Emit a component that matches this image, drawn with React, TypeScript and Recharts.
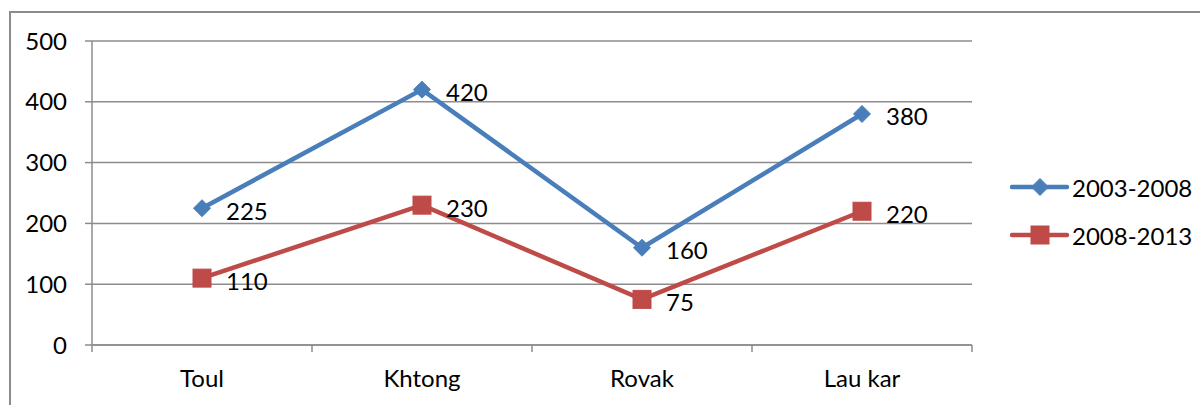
import { CartesianGrid, LabelList, Line, LineChart, XAxis, YAxis } from "recharts";

const regions = ["Toul", "Khtong", "Rovak", "Lau kar"];
const period1 = [225, 420, 160, 380];
const period2 = [110, 230, 75, 220];
const yTicks = [0, 100, 200, 300, 400, 500];

const BLUE = "#4A7EBB";
const RED = "#BE4B48";
const GRID = "#8c8c8c";
const FONT = "Lato, 'Open Sans', sans-serif";

const data = regions.map((name, i) => ({
  name,
  p1: period1[i],
  p2: period2[i],
}));

const series = [
  { key: "p1", name: "2003-2008", color: BLUE, shape: "diamond" },
  { key: "p2", name: "2008-2013", color: RED, shape: "square" },
];

function Marker({ cx, cy, shape, color }: any) {
  if (cx == null || cy == null) return null;
  if (shape === "diamond") {
    const r = 8.5;
    return (
      <polygon
        points={`${cx},${cy - r} ${cx + r},${cy} ${cx},${cy + r} ${cx - r},${cy}`}
        fill={color}
        stroke={color}
      />
    );
  }
  return <rect x={cx - 9} y={cy - 9} width={18} height={18} fill={color} stroke={color} />;
}

const PLOT_W = 880;

function XTick(props: any) {
  const { x, y, payload, index } = props;
  const half = PLOT_W / regions.length / 2;
  return (
    <g>
      <line x1={x - half} y1={y} x2={x - half} y2={y + 7} stroke={GRID} strokeWidth={1.5} />
      {index === regions.length - 1 && (
        <line x1={x + half} y1={y} x2={x + half} y2={y + 7} stroke={GRID} strokeWidth={1.5} />
      )}
      <text x={x} y={y + 42} textAnchor="middle" fontSize={24} fill="#000" fontFamily={FONT}>
        {payload.value}
      </text>
    </g>
  );
}

function PointLabel({ x, y, value }: any) {
  return (
    <text x={x + 24} y={y + 2} dominantBaseline="central" fontSize={24} fill="#000" fontFamily={FONT}>
      {value}
    </text>
  );
}

function LegendBox() {
  return (
    <svg width={190} height={80}>
      {series.map((s, i) => {
        const y = 15 + i * 48;
        return (
          <g key={s.key}>
            <line x1={2} y1={y} x2={57} y2={y} stroke={s.color} strokeWidth={4.5} strokeLinecap="round" />
            <Marker cx={30} cy={y} shape={s.shape} color={s.color} />
            <text x={62} y={y} dominantBaseline="central" fontSize={24} fill="#000" fontFamily={FONT}>
              {s.name}
            </text>
          </g>
        );
      })}
    </svg>
  );
}

export default function App() {
  return (
    <div
      style={{
        position: "fixed",
        left: 0,
        top: 0,
        width: 1200,
        height: 405,
        background: "#fff",
        overflow: "hidden",
      }}
    >
      <div
        style={{
          position: "absolute",
          left: 9,
          top: 11,
          width: 1300,
          height: 500,
          border: "2px solid #8c8c8c",
        }}
      />
      <div style={{ position: "absolute", left: 0, top: 0 }}>
        <LineChart
          width={1200}
          height={405}
          data={data}
          margin={{ top: 41, right: 228, bottom: 0, left: 0 }}
        >
          <CartesianGrid vertical={false} stroke={GRID} strokeWidth={1.5} />
          <XAxis
            dataKey="name"
            scale="band"
            height={60}
            axisLine={{ stroke: GRID, strokeWidth: 1.5 }}
            tickLine={false}
            tickSize={0}
            tickMargin={0}
            tick={<XTick />}
            interval={0}
          />
          <YAxis
            width={92}
            domain={[0, 500]}
            ticks={yTicks}
            interval={0}
            axisLine={{ stroke: GRID, strokeWidth: 1.5 }}
            tickLine={{ stroke: GRID, strokeWidth: 1.5 }}
            tickSize={7}
            tickMargin={18}
            tick={{ fontSize: 24, fill: "#000", fontFamily: FONT }}
          />
          {series.map((s) => (
            <Line
              key={s.key}
              dataKey={s.key}
              name={s.name}
              type="linear"
              stroke={s.color}
              strokeWidth={4.5}
              isAnimationActive={false}
              dot={(p: any) => <Marker key={`${s.key}-${p.index}`} cx={p.cx} cy={p.cy} shape={s.shape} color={s.color} />}
              activeDot={false}
            >
              <LabelList dataKey={s.key} content={<PointLabel />} />
            </Line>
          ))}
        </LineChart>
      </div>
      <div style={{ position: "absolute", left: 1010, top: 172 }}>
        <LegendBox />
      </div>
    </div>
  );
}
